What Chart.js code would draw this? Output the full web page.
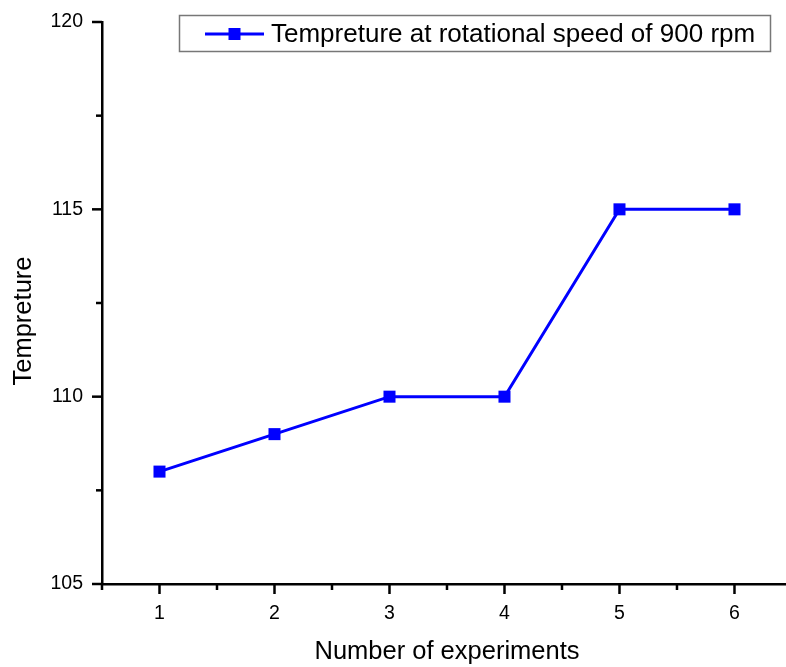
<!DOCTYPE html>
<html>
<head>
<meta charset="utf-8">
<script src="https://cdn.jsdelivr.net/npm/chart.js@4.4.0/dist/chart.umd.min.js"></script>
<style>
	body { margin: 0; background: #fff; }
	canvas { display: block; }
</style>
</head>
<body>
<canvas id="chart" width="786" height="667"></canvas>
<script>
// Chart data
const experiments = [1, 2, 3, 4, 5, 6];
const temperatures = [108, 109, 110, 110, 115, 115];
const xTickValues = [1, 2, 3, 4, 5, 6];
const xMinorTicks = [0.5, 1.5, 2.5, 3.5, 4.5, 5.5];
const yTickValues = [105, 110, 115, 120];
const yMinorTicks = [107.5, 112.5, 117.5];
const seriesLabel = "Tempreture at rotational speed of 900 rpm";
const xTitle = "Number of experiments";
const yTitle = "Tempreture";

const FONT = "'Liberation Sans', Arial, sans-serif";
const BLUE = "#0000ff";

Chart.defaults.font.family = FONT;
Chart.defaults.font.size = 19.5;
Chart.defaults.color = "#000";

// Outward ticks (major + minor), axis titles and the framed legend
Chart.register({
	id: "originDecor",
	afterDraw: (chart) => {
		const { ctx, chartArea } = chart;
		const xs = chart.scales.x;
		const ys = chart.scales.y;
		ctx.save();
		ctx.strokeStyle = "#000";
		ctx.lineWidth = 2.5;
		ctx.lineCap = "butt";

		// x ticks go down
		const drawX = (v, len) => {
			const px = xs.getPixelForValue(v);
			ctx.beginPath();
			ctx.moveTo(px, chartArea.bottom);
			ctx.lineTo(px, chartArea.bottom + len);
			ctx.stroke();
		};
		xTickValues.forEach((v) => drawX(v, 10));
		xMinorTicks.forEach((v) => drawX(v, 6));

		// y ticks go left
		const drawY = (v, len) => {
			const py = ys.getPixelForValue(v);
			ctx.beginPath();
			ctx.moveTo(chartArea.left, py);
			ctx.lineTo(chartArea.left - len, py);
			ctx.stroke();
		};
		yTickValues.forEach((v) => drawY(v, 10));
		yMinorTicks.forEach((v) => drawY(v, 6));

		// Axis titles
		ctx.fillStyle = "#000";
		ctx.font = "25.5px " + FONT;
		ctx.textAlign = "center";
		ctx.textBaseline = "middle";
		ctx.fillText(xTitle, 447, 652);
		ctx.save();
		ctx.translate(24, 321);
		ctx.rotate(-Math.PI / 2);
		ctx.fillText(yTitle, 0, 0);
		ctx.restore();

		// Legend
		ctx.strokeStyle = "#777";
		ctx.lineWidth = 1.5;
		ctx.strokeRect(179.5, 15.5, 591, 36);
		ctx.strokeStyle = BLUE;
		ctx.lineWidth = 3;
		ctx.beginPath();
		ctx.moveTo(205, 34);
		ctx.lineTo(264, 34);
		ctx.stroke();
		ctx.fillStyle = BLUE;
		ctx.fillRect(228.5, 28, 12, 12);
		ctx.fillStyle = "#000";
		ctx.font = "26px " + FONT;
		ctx.textAlign = "left";
		ctx.fillText(seriesLabel, 271, 35);
		ctx.restore();
	},
});

new Chart(document.getElementById("chart"), {
	type: "line",
	data: {
		datasets: [
			{
				label: seriesLabel,
				data: experiments.map((x, i) => ({ x: x, y: temperatures[i] })),
				borderColor: BLUE,
				backgroundColor: BLUE,
				borderWidth: 3,
				pointStyle: "rect",
				pointRadius: 8.5,
				pointBorderWidth: 0,
				pointBackgroundColor: BLUE,
				tension: 0,
				clip: false,
			},
		],
	},
	options: {
		responsive: false,
		animation: false,
		layout: { autoPadding: false, padding: { top: 22, right: 0, left: 0, bottom: 0 } },
		plugins: {
			legend: { display: false },
			tooltip: { enabled: false },
		},
		scales: {
			x: {
				type: "linear",
				min: 0.5,
				max: 6.448,
				grid: { display: false, drawTicks: false },
				border: { display: true, color: "#000", width: 2.5 },
				afterBuildTicks: (scale) => {
					scale.ticks = xTickValues.map((v) => ({ value: v }));
				},
				afterFit: (scale) => {
					scale.height = 83;
					scale.paddingLeft = 0;
					scale.paddingRight = 0;
				},
				ticks: {
					padding: 18,
					color: "#000",
					font: { family: FONT, size: 19.5 },
					maxRotation: 0,
				},
			},
			y: {
				min: 105,
				max: 120,
				grid: { display: false, drawTicks: false },
				border: { display: true, color: "#000", width: 2.5 },
				afterBuildTicks: (scale) => {
					scale.ticks = yTickValues.map((v) => ({ value: v }));
				},
				afterFit: (scale) => {
					scale.width = 102;
					scale.paddingTop = 0;
					scale.paddingBottom = 0;
				},
				ticks: {
					padding: 19,
					color: "#000",
					font: { family: FONT, size: 19.5 },
				},
			},
		},
	},
});
</script>
</body>
</html>
